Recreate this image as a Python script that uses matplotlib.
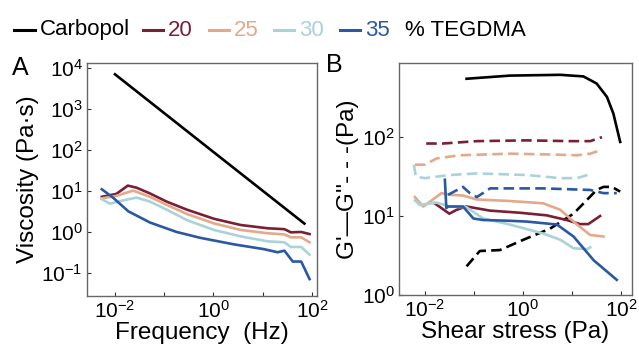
import matplotlib
matplotlib.use("Agg")
import matplotlib.pyplot as plt
from matplotlib.lines import Line2D
from matplotlib.ticker import LogLocator, FixedLocator, NullLocator

plt.rcParams['font.family'] = ['Liberation Sans', 'DejaVu Sans']
plt.rcParams['mathtext.default'] = 'regular'

# ---------------- colours ----------------
C_CARB = "#000000"
C20 = "#7a1f35"
C25 = "#e3a98a"
C30 = "#a9d3d7"
C35 = "#2a58a3"

# ---------------- Panel A: viscosity vs frequency ----------------
carb_f = [0.01, 1.0, 70]
carb_visc = [7000, 89, 1.6]

f20 = [0.0054, 0.0107, 0.0182, 0.0275, 0.0513, 0.112, 0.288, 1.02, 3.55, 12.6, 27.5, 37.2, 60.3, 89.1]
v20 = [7.2, 8.5, 13.5, 12.0, 8.7, 5.5, 3.5, 2.1, 1.48, 1.23, 1.17, 0.98, 1.0, 0.89]

f25 = [0.0054, 0.0107, 0.0234, 0.0513, 0.112, 0.288, 1.02, 3.55, 12.6, 27.5, 37.2, 60.3, 89.1]
v25 = [6.6, 7.6, 10.2, 7.2, 4.6, 2.75, 1.62, 1.12, 0.93, 0.87, 0.74, 0.74, 0.56]

f30 = [0.0054, 0.0079, 0.0148, 0.0275, 0.0513, 0.112, 0.288, 1.02, 3.55, 12.6, 27.5, 37.2, 60.3, 89.1]
v30 = [6.3, 4.9, 5.9, 6.9, 5.5, 3.5, 1.95, 1.12, 0.78, 0.59, 0.56, 0.43, 0.43, 0.28]

f35 = [0.0054, 0.0091, 0.0186, 0.0513, 0.178, 0.537, 2.57, 10.7, 20.0, 27.5, 40.7, 60.3, 89.1]
v35 = [11.0, 6.9, 3.2, 1.7, 1.0, 0.72, 0.50, 0.38, 0.32, 0.35, 0.19, 0.19, 0.071]

# ---------------- Panel B: moduli vs shear stress ----------------
carb_s_g1 = [0.071, 0.54, 5.75, 17.0, 31.6, 51.3, 69.2, 95.5]
carb_g1 = [550, 603, 617, 589, 479, 324, 200, 87]
carb_s_g2 = [0.071, 0.132, 0.339, 1.02, 3.55, 10.7, 31.6, 43.7, 64.6, 95.5]
carb_g2 = [2.3, 3.6, 3.7, 5.0, 6.9, 10.7, 21.4, 23.4, 23.4, 20.4]

s20_g2 = [0.0107, 0.0234, 0.115, 1.2, 9.1, 23.4, 40.7]
g2_20 = [83, 83, 89, 91, 89, 89, 100]
s25_g2 = [0.0063, 0.01, 0.0174, 0.0513, 0.537, 3.55, 12.6, 23.4, 40.7]
g2_25 = [44.7, 44.7, 53.7, 58.9, 61.7, 60.3, 58.9, 61.7, 69.2]
s30_g2 = [0.006, 0.0066, 0.01, 0.0324, 0.115, 1.2, 5.75, 12.6, 23.4]
g2_30 = [44.7, 31.6, 30.2, 33.1, 34.7, 33.1, 30.2, 30.2, 33.9]
s35_g2 = [0.030, 0.060, 0.083, 0.115, 0.214, 2.57, 23.4, 43.7, 81.3]
g2_35 = [18.6, 23.4, 19.5, 17.4, 22.4, 22.4, 21.4, 19.5, 19.5]

s20_g1 = [0.0158, 0.0219, 0.0316, 0.0447, 0.0708, 0.214, 0.871, 3.02, 7.76, 14.5, 21.4, 37.2]
g1_20 = [14.5, 12.6, 10.7, 12.0, 13.2, 11.7, 11.0, 10.2, 8.9, 7.9, 7.9, 10.0]
s25_g1 = [0.0063, 0.0093, 0.0126, 0.0219, 0.0324, 0.060, 0.115, 0.537, 2.57, 5.75, 12.6, 23.4, 43.7]
g1_25 = [17.4, 13.2, 15.1, 19.5, 18.6, 18.2, 16.2, 15.5, 14.5, 12.0, 7.8, 5.75, 5.5]
s30_g1 = [0.0063, 0.0079, 0.0174, 0.0324, 0.0708, 0.155, 0.537, 2.57, 5.75, 10.7, 20.0, 23.4]
g1_30 = [15.8, 13.8, 14.8, 13.2, 12.9, 9.3, 7.8, 6.0, 5.0, 3.9, 3.8, 4.0]
s35_g1 = [0.0257, 0.0275, 0.030, 0.060, 0.098, 0.155, 0.537, 1.2, 4.9, 10.7, 27.5, 81.3]
g1_35 = [28.8, 12.6, 13.2, 13.2, 9.3, 8.9, 8.7, 8.5, 7.8, 5.5, 2.75, 1.55]

legend_labels = ["Carbopol", "20", "25", "30", "35"]
legend_colors = [C_CARB, C20, C25, C30, C35]

LW = 1.9
FS_TICK = 15
FS_LAB = 17.5
SPINE = "#666666"

fig = plt.figure(figsize=(6.39, 3.54), dpi=100)
axA = fig.add_axes([0.136, 0.164, 0.360, 0.658])
axB = fig.add_axes([0.624, 0.167, 0.365, 0.655])

def style(ax):
    ax.set_xscale("log")
    ax.set_yscale("log")
    for sp in ax.spines.values():
        sp.set_color(SPINE)
        sp.set_linewidth(1.0)
    ax.tick_params(which="major", direction="in", length=3, width=0.8,
                   color="#333333", labelsize=FS_TICK, pad=3)
    ax.xaxis.set_minor_locator(NullLocator())
    ax.yaxis.set_minor_locator(NullLocator())

# Panel A
style(axA)
axA.plot(carb_f, carb_visc, color=C_CARB, lw=LW)
axA.plot(f20, v20, color=C20, lw=LW)
axA.plot(f25, v25, color=C25, lw=LW)
axA.plot(f30, v30, color=C30, lw=LW)
axA.plot(f35, v35, color=C35, lw=LW)
axA.set_xlim(10**-2.57, 10**2.1)
axA.set_ylim(10**-1.56, 10**4.12)
axA.xaxis.set_major_locator(FixedLocator([1e-2, 1e-1, 1e0, 1e1, 1e2]))
axA.set_xticklabels(["$10^{-2}$", "", "$10^{0}$", "", "$10^{2}$"])
axA.yaxis.set_major_locator(FixedLocator([1e-1, 1e0, 1e1, 1e2, 1e3, 1e4]))
axA.set_yticklabels(["$10^{-1}$", "$10^{0}$", "$10^{1}$", "$10^{2}$", "$10^{3}$", "$10^{4}$"])
axA.set_xlabel("Frequency  (Hz)", fontsize=FS_LAB, labelpad=0)
axA.set_ylabel("Viscosity (Pa·s)", fontsize=FS_LAB, labelpad=2)

# Panel B
style(axB)
dash = (4, 2)
axB.plot(carb_s_g1, carb_g1, color=C_CARB, lw=LW)
axB.plot(carb_s_g2, carb_g2, color=C_CARB, lw=LW, ls=(0, dash))
for s1, g1, s2, g2, c in [(s20_g1, g1_20, s20_g2, g2_20, C20),
                          (s25_g1, g1_25, s25_g2, g2_25, C25),
                          (s30_g1, g1_30, s30_g2, g2_30, C30),
                          (s35_g1, g1_35, s35_g2, g2_35, C35)]:
    axB.plot(s2, g2, color=c, lw=LW, ls=(0, dash))
    axB.plot(s1, g1, color=c, lw=LW)
axB.set_xlim(10**-2.53, 10**2.22)
axB.set_ylim(1, 10**2.94)
axB.xaxis.set_major_locator(FixedLocator([1e-2, 1e-1, 1e0, 1e1, 1e2]))
axB.set_xticklabels(["$10^{-2}$", "", "$10^{0}$", "", "$10^{2}$"])
axB.yaxis.set_major_locator(FixedLocator([1e0, 1e1, 1e2]))
axB.set_yticklabels(["$10^{0}$", "$10^{1}$", "$10^{2}$"])
axB.set_xlabel("Shear stress (Pa)", fontsize=FS_LAB, labelpad=0)
axB.set_ylabel("G'—G''- - -(Pa)", fontsize=FS_LAB, labelpad=2)

# Panel letters
fig.text(12 / 639, 1 - 75 / 354, "A", fontsize=18, ha="left", va="baseline")
fig.text(326 / 639, 1 - 72 / 354, "B", fontsize=18, ha="left", va="baseline")

# Top legend
W, H = 639.0, 354.0
yc = 1 - 30 / H
line_x = [(14, 35), (143, 163), (209, 229), (274, 294), (340, 360)]
text_x = [40, 168, 234, 299, 365]
for (x0, x1), tx, lab, col in zip(line_x, text_x, legend_labels, legend_colors):
    fig.add_artist(Line2D([x0 / W, x1 / W], [yc, yc], color=col, lw=2.2,
                          transform=fig.transFigure))
    fig.text(tx / W, yc, lab, color=col, fontsize=16, ha="left", va="center")
fig.text(405 / W, yc, "% TEGDMA", color="black", fontsize=16, ha="left", va="center")

fig.savefig("out.png", dpi=100)
